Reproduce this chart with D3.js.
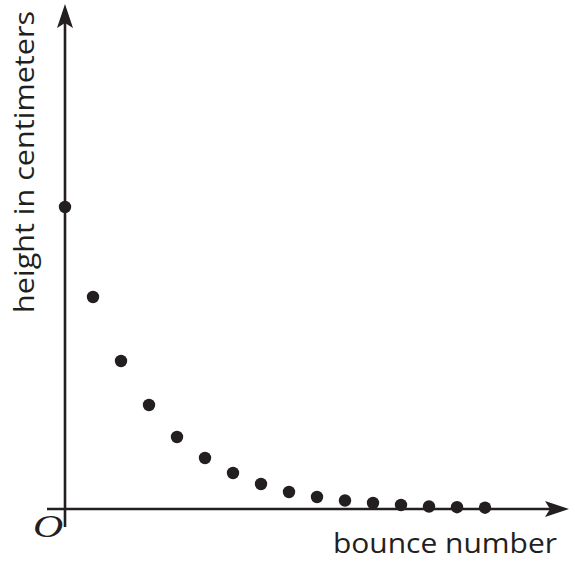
<!DOCTYPE html>
<html>
<head>
<meta charset="utf-8">
<script src="https://cdn.jsdelivr.net/npm/d3@7"></script>
<style>
  html, body { margin: 0; padding: 0; background: #fff; }
  svg { display: block; }
</style>
</head>
<body>
<svg id="chart" width="575" height="561"></svg>
<script>
// Data
const bounceNumbers = [0, 1, 2, 3, 4, 5, 6, 7, 8, 9, 10, 11, 12, 13, 14, 15];
const heights = [302, 212, 148, 104, 72, 51, 36, 25, 17, 12, 8.5, 6, 4, 2.5, 1.8, 1.3];
const xLabel = "bounce number";
const yLabel = "height in centimeters";
const originLabel = "O";

const ink = "#231f20";
const svg = d3.select("#chart");

const x = d3.scaleLinear().domain([0, 18]).range([65, 569]);
const y = d3.scaleLinear().domain([0, 500]).range([509, 9]);

// Axes lines
svg.append("line")
  .attr("x1", 47).attr("x2", 552)
  .attr("y1", y(0)).attr("y2", y(0))
  .attr("stroke", ink).attr("stroke-width", 2.6);
svg.append("line")
  .attr("x1", x(0)).attr("x2", x(0))
  .attr("y1", 527).attr("y2", 22)
  .attr("stroke", ink).attr("stroke-width", 2.6);

// Arrowheads
const ax = x(0), ay = 4;
svg.append("path")
  .attr("d", `M${ax},${ay} L${ax + 8},${ay + 24} L${ax},${ay + 19} L${ax - 8},${ay + 24} Z`)
  .attr("fill", ink);
const bx = 569, by = y(0);
svg.append("path")
  .attr("d", `M${bx},${by} L${bx - 24},${by - 8} L${bx - 19},${by} L${bx - 24},${by + 8} Z`)
  .attr("fill", ink);

// Points
svg.append("g").selectAll("circle")
  .data(bounceNumbers)
  .join("circle")
  .attr("cx", d => x(d))
  .attr("cy", (d, i) => y(heights[i]))
  .attr("r", 6.2)
  .attr("fill", ink);

// Labels
svg.append("text")
  .attr("x", 333).attr("y", 553)
  .attr("text-anchor", "start")
  .attr("font-family", "Open Sans")
  .attr("font-size", 28)
  .attr("textLength", 224)
  .attr("lengthAdjust", "spacingAndGlyphs")
  .attr("fill", ink)
  .text(xLabel);

svg.append("text")
  .attr("transform", "translate(34,313) rotate(-90)")
  .attr("text-anchor", "start")
  .attr("font-family", "Open Sans")
  .attr("font-size", 28)
  .attr("textLength", 302)
  .attr("lengthAdjust", "spacingAndGlyphs")
  .attr("fill", ink)
  .text(yLabel);

svg.append("text")
  .attr("transform", "translate(48,537) scale(1.35,1)")
  .attr("text-anchor", "middle")
  .attr("font-family", "Liberation Serif")
  .attr("font-style", "italic")
  .attr("font-size", 31)
  .attr("fill", ink)
  .text(originLabel);
</script>
</body>
</html>
